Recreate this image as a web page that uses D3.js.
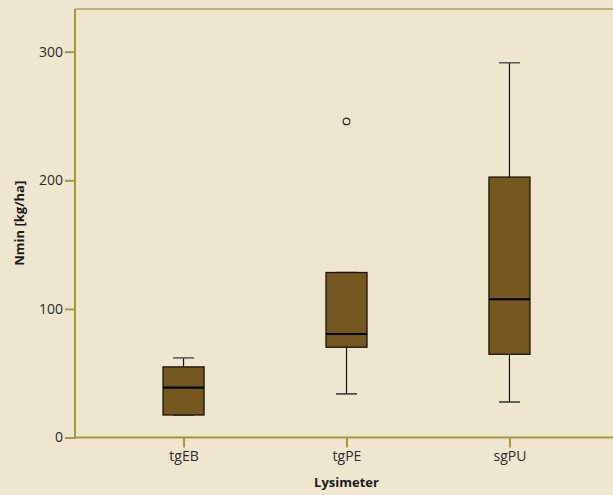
<!DOCTYPE html>
<html>
<head>
<meta charset="utf-8">
<script src="https://cdn.jsdelivr.net/npm/d3@7"></script>
<style>
  html, body { margin: 0; padding: 0; background: #efe6d0; }
</style>
</head>
<body>
<script>
// data
var categories = ["tgEB", "tgPE", "sgPU"];
var whiskerLow = [17.5, 33.9, 27.6];
var q1 = [17.5, 70.2, 64.7];
var median = [38.8, 80.5, 107.5];
var q3 = [54.9, 128.3, 202.5];
var whiskerHigh = [61.9, 128.3, 291.4];
var outliers = [[], [245.8], []];
var yTicks = [0, 100, 200, 300];

var boxes = categories.map(function(c, i) {
    return {name: c, lo: whiskerLow[i], q1: q1[i], med: median[i], q3: q3[i], hi: whiskerHigh[i], out: outliers[i]};
});

var width = 613, height = 495;
var plotLeft = 75, plotTop = 9, plotBottom = 437.5, plotRight = 618;

var svg = d3.select("body")
    .append("svg")
    .attr("width", width)
    .attr("height", height)
    .style("display", "block")
    .style("font-family", "'Open Sans', sans-serif");

svg.append("rect")
    .attr("width", width)
    .attr("height", height)
    .attr("fill", "#efe6d0");

var y = d3.scaleLinear()
    .domain([0, 333.2])
    .range([plotBottom, plotTop]);

var x = d3.scalePoint()
    .domain(categories)
    .range([plotLeft, plotRight])
    .padding(0.666);

var axisColor = "#a8983c";

// top frame line
svg.append("line")
    .attr("x1", plotLeft).attr("x2", width)
    .attr("y1", plotTop).attr("y2", plotTop)
    .attr("stroke", "#c2b377")
    .attr("stroke-width", 2);

// y axis
var yAxis = svg.append("g")
    .attr("transform", "translate(" + plotLeft + ",0)")
    .call(d3.axisLeft(y).tickValues(yTicks).tickSize(10).tickSizeOuter(0).tickPadding(2));
yAxis.select(".domain").remove();
yAxis.append("line")
    .attr("x1", 0).attr("x2", 0)
    .attr("y1", plotTop).attr("y2", plotBottom + 1)
    .attr("stroke", axisColor)
    .attr("stroke-width", 2);
yAxis.selectAll(".tick line").attr("stroke", axisColor).attr("stroke-width", 2);
yAxis.selectAll(".tick text")
    .attr("fill", "#2b2b2b")
    .style("font-size", "14px")
    .style("font-family", "'Open Sans', sans-serif");

// x axis
var xAxis = svg.append("g")
    .attr("transform", "translate(0," + plotBottom + ")")
    .call(d3.axisBottom(x).tickSize(10).tickSizeOuter(0).tickPadding(4));
xAxis.select(".domain").remove();
xAxis.append("line")
    .attr("x1", plotLeft - 1).attr("x2", width)
    .attr("y1", 0).attr("y2", 0)
    .attr("stroke", axisColor)
    .attr("stroke-width", 2);
xAxis.selectAll(".tick line").attr("stroke", axisColor).attr("stroke-width", 2);
xAxis.selectAll(".tick text")
    .attr("fill", "#2b2b2b")
    .style("font-size", "14px")
    .style("font-family", "'Open Sans', sans-serif");

// axis titles
svg.append("text")
    .attr("x", x("tgPE"))
    .attr("y", 487)
    .attr("text-anchor", "middle")
    .attr("fill", "#1a1a1a")
    .style("font-size", "13px")
    .style("font-weight", "bold")
    .text("Lysimeter");

svg.append("text")
    .attr("transform", "translate(24," + ((plotTop + plotBottom) / 2) + ") rotate(-90)")
    .attr("text-anchor", "middle")
    .attr("fill", "#1a1a1a")
    .style("font-size", "13px")
    .style("font-weight", "bold")
    .text("Nmin [kg/ha]");

// boxes
var boxW = 41, capW = 21;
var g = svg.append("g")
    .selectAll("g")
    .data(boxes)
    .enter()
    .append("g")
        .attr("transform", d => "translate(" + x(d.name) + ",0)");

// whiskers
g.append("line")
    .attr("x1", 0).attr("x2", 0)
    .attr("y1", d => y(d.hi)).attr("y2", d => y(d.q3))
    .attr("stroke", "#111").attr("stroke-width", 1.2);
g.append("line")
    .attr("x1", 0).attr("x2", 0)
    .attr("y1", d => y(d.q1)).attr("y2", d => y(d.lo))
    .attr("stroke", "#111").attr("stroke-width", 1.2);

// caps
g.append("line")
    .attr("x1", -capW / 2).attr("x2", capW / 2)
    .attr("y1", d => y(d.hi)).attr("y2", d => y(d.hi))
    .attr("stroke", "#555").attr("stroke-width", 1.5);
g.append("line")
    .attr("x1", -capW / 2).attr("x2", capW / 2)
    .attr("y1", d => y(d.lo)).attr("y2", d => y(d.lo))
    .attr("stroke", "#333").attr("stroke-width", 1.5);

g.append("rect")
    .attr("x", -boxW / 2)
    .attr("width", boxW)
    .attr("y", d => y(d.q3))
    .attr("height", d => y(d.q1) - y(d.q3))
    .attr("fill", "#75581f")
    .attr("stroke", "#1a1306")
    .attr("stroke-width", 1.3);

g.append("line")
    .attr("x1", -boxW / 2).attr("x2", boxW / 2)
    .attr("y1", d => y(d.med)).attr("y2", d => y(d.med))
    .attr("stroke", "#000").attr("stroke-width", 2.2);

// outliers
g.selectAll("circle")
    .data(d => d.out)
    .enter()
    .append("circle")
        .attr("cx", 0)
        .attr("cy", d => y(d))
        .attr("r", 3.3)
        .attr("fill", "none")
        .attr("stroke", "#333")
        .attr("stroke-width", 1.2);
</script>
</body>
</html>
